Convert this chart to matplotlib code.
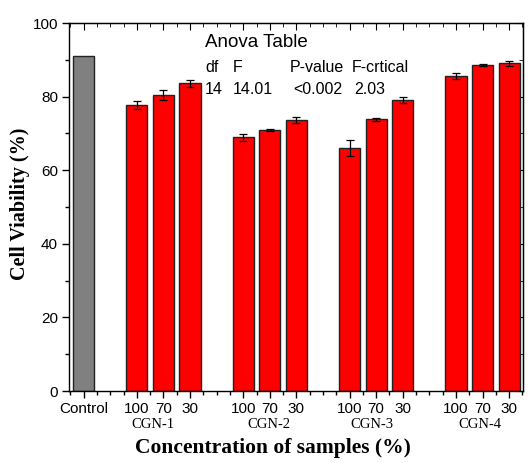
import numpy as np
import matplotlib.pyplot as plt
from matplotlib.ticker import MultipleLocator

# bar data
tick_labels = ["Control", "100", "70", "30", "100", "70", "30",
               "100", "70", "30", "100", "70", "30"]
positions = [0, 2, 3, 4, 6, 7, 8, 10, 11, 12, 14, 15, 16]
viability = [91.0, 77.7, 80.5, 83.6, 68.9, 71.0, 73.6,
             66.0, 73.8, 79.1, 85.5, 88.5, 89.0]
errors = [0.0, 1.2, 1.3, 1.0, 0.9, 0.3, 0.8,
          2.1, 0.3, 0.9, 0.8, 0.3, 0.8]
colors = ["#808080"] + ["#ff0000"] * 12
groups = ["CGN-1", "CGN-2", "CGN-3", "CGN-4"]
group_pos = [2.6, 6.95, 10.85, 14.9]

anova_head = ["df", "F", "P-value", "F-crtical"]
anova_vals = ["14", "14.01", "<0.002", "2.03"]

sans = "Liberation Sans"
serif = "Liberation Serif"

fig = plt.figure(figsize=(5.28, 4.63), dpi=100)
ax = fig.add_axes([0.1307, 0.1555, 0.8598, 0.7948])

ax.bar(positions, viability, width=0.8, color=colors, edgecolor="#222222",
       linewidth=1.0, zorder=2)
ax.errorbar(positions[1:], viability[1:], yerr=errors[1:], fmt="none",
            ecolor="black", elinewidth=0.9, capsize=2.8, capthick=0.9, zorder=3)

ax.set_xlim(-0.55, 16.52)
ax.set_ylim(0, 100)

ax.set_xticks(positions)
ax.set_xticklabels(tick_labels, fontname=sans, fontsize=11)
ax.xaxis.set_minor_locator(MultipleLocator(0.5))
ax.yaxis.set_major_locator(MultipleLocator(20))
ax.yaxis.set_minor_locator(MultipleLocator(10))
for lab in ax.get_yticklabels():
    lab.set_fontname(sans)
    lab.set_fontsize(11)
ax.tick_params(which="major", direction="out", length=5, width=1, pad=3)
ax.tick_params(which="minor", direction="out", length=3, width=1)

# mirrored ticks on top and right, pointing inward
top = ax.secondary_xaxis("top")
top.set_xticks(positions)
top.xaxis.set_minor_locator(MultipleLocator(0.5))
top.tick_params(which="both", direction="in", labeltop=False)
top.tick_params(which="major", length=5)
top.tick_params(which="minor", length=3)
right = ax.secondary_yaxis("right")
right.yaxis.set_major_locator(MultipleLocator(20))
right.yaxis.set_minor_locator(MultipleLocator(10))
right.tick_params(which="both", direction="in", labelright=False)
right.tick_params(which="major", length=5)
right.tick_params(which="minor", length=3)

for s in ax.spines.values():
    s.set_linewidth(1.0)

for x, g in zip(group_pos, groups):
    ax.text(x, -0.092, g, transform=ax.get_xaxis_transform(), ha="center",
            va="center", fontname=serif, fontsize=10.5)

ax.text(0.449, -0.155, "Concentration of samples (%)", transform=ax.transAxes,
        ha="center", va="center", fontname=serif, fontsize=15.5,
        fontweight="bold")
ax.text(-0.107, 0.508, "Cell Viability (%)", transform=ax.transAxes,
        ha="center", va="center", rotation=90, fontname=serif, fontsize=14.5,
        fontweight="bold")

ax.text(0.2996, 0.946, "Anova Table", transform=ax.transAxes, ha="left",
        va="center", fontname=sans, fontsize=13.5)
head_x = [0.2996, 0.361, 0.487, 0.623]
val_x = [0.2996, 0.361, 0.493, 0.628]
for x, t in zip(head_x, anova_head):
    ax.text(x, 0.880, t, transform=ax.transAxes, ha="left", va="center",
            fontname=sans, fontsize=11.5)
for x, t in zip(val_x, anova_vals):
    ax.text(x, 0.818, t, transform=ax.transAxes, ha="left", va="center",
            fontname=sans, fontsize=11.5)

fig.savefig("out.png", dpi=100)
